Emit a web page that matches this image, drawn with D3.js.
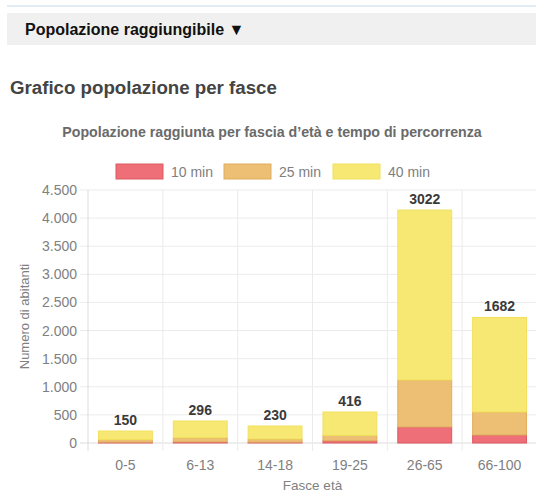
<!DOCTYPE html>
<html>
<head>
<meta charset="utf-8">
<script src="https://cdn.jsdelivr.net/npm/d3@7"></script>
<style>
  body { margin: 0; background: #fff; font-family: "Liberation Sans", Arial, Helvetica, sans-serif; }
  svg { display: block; }
</style>
</head>
<body>
<svg id="chart" width="536" height="493"></svg>
<script>
// age groups and population reached per travel time
const categories = ['0-5', '6-13', '14-18', '19-25', '26-65', '66-100'];
const min10 = [15, 20, 15, 40, 285, 142];
const min25 = [48, 75, 57, 95, 836, 409];
const min40 = [150, 296, 230, 416, 3022, 1682];
const yTicks = [0, 500, 1000, 1500, 2000, 2500, 3000, 3500, 4000, 4500];

const seriesNames = ['10 min', '25 min', '40 min'];
const fills = ['#ee6f77', '#ecbf74', '#f6e873'];
const strokes = ['#dc5a63', '#e0ad5c', '#f2e05c'];

const itLocale = d3.formatLocale({ decimal: ',', thousands: '.', grouping: [3], currency: ['€', ''] });
const fmt = itLocale.format(',d');

const svg = d3.select('#chart');

// page header
svg.append('line')
    .attr('x1', 7).attr('x2', 536).attr('y1', 6).attr('y2', 6)
    .style('stroke', '#e2ecf5').style('stroke-width', 2);
svg.append('rect')
    .attr('x', 7).attr('y', 13).attr('width', 529).attr('height', 32)
    .style('fill', '#f0f0f0');
svg.append('text')
    .attr('x', 25).attr('y', 35)
    .style('font-size', '16px').style('font-weight', 'bold').style('fill', '#111')
    .text('Popolazione raggiungibile ▼');
svg.append('text')
    .attr('x', 10).attr('y', 94)
    .style('font-size', '18.7px').style('font-weight', 'bold').style('fill', '#444')
    .text('Grafico popolazione per fasce');

// chart title
svg.append('text')
    .attr('x', 272).attr('y', 137)
    .attr('text-anchor', 'middle')
    .style('font-size', '14.2px').style('font-weight', 'bold').style('fill', '#6a6a6a')
    .text('Popolazione raggiunta per fascia d\u2019età e tempo di percorrenza');

// legend
const legendX = [116, 224, 333];
const legend = svg.append('g');
seriesNames.forEach((name, i) => {
  legend.append('rect')
      .attr('x', legendX[i]).attr('y', 164).attr('width', 47).attr('height', 15)
      .style('fill', fills[i]).style('stroke', strokes[i]).style('stroke-width', 1);
  legend.append('text')
      .attr('x', legendX[i] + 55).attr('y', 177)
      .style('font-size', '14px').style('fill', '#808080')
      .text(name);
});

// scales
const x = d3.scaleBand().domain(categories).range([88, 537]).paddingInner(0).paddingOuter(0);
const y = d3.scaleLinear().domain([0, 4500]).range([443, 190]);

// gridlines
const grid = svg.append('g');
for (let t of yTicks)
{
  grid.append('line')
      .attr('x1', 80).attr('x2', 537)
      .attr('y1', y(t)).attr('y2', y(t))
      .style('stroke', t === 0 ? '#dcdcdc' : '#ebebeb');
}
const bounds = categories.map(c => x(c)).concat([x.range()[1]]);
for (let b of bounds)
{
  grid.append('line')
      .attr('x1', b).attr('x2', b)
      .attr('y1', y(4500)).attr('y2', 451)
      .style('stroke', b === 88 ? '#dcdcdc' : '#ebebeb');
}

// y axis labels
svg.append('g').selectAll('text')
    .data(yTicks)
    .join('text')
    .attr('x', 77)
    .attr('y', d => y(d) + 5)
    .attr('text-anchor', 'end')
    .style('font-size', '14px').style('fill', '#808080')
    .text(d => fmt(d));

// x axis labels
svg.append('g').selectAll('text')
    .data(categories)
    .join('text')
    .attr('x', d => x(d) + x.bandwidth() / 2)
    .attr('y', 470)
    .attr('text-anchor', 'middle')
    .style('font-size', '14px').style('fill', '#808080')
    .text(d => d);

// axis titles
svg.append('text')
    .attr('transform', `translate(29, ${(y(0) + y(4500)) / 2}) rotate(-90)`)
    .attr('text-anchor', 'middle')
    .style('font-size', '13px').style('fill', '#808080')
    .text('Numero di abitanti');
svg.append('text')
    .attr('x', (x.range()[0] + x.range()[1]) / 2).attr('y', 490)
    .attr('text-anchor', 'middle')
    .style('font-size', '13.5px').style('fill', '#808080')
    .text('Fasce età');

// stacked bars
const rows = categories.map((c, i) => ({ cat: c, '10 min': min10[i], '25 min': min25[i], '40 min': min40[i] }));
const stacked = d3.stack().keys(seriesNames)(rows);
const barW = x.bandwidth() * 0.72;
const barOff = (x.bandwidth() - barW) / 2;

svg.append('g').selectAll('g')
    .data(stacked)
    .join('g')
    .style('fill', (d, i) => fills[i])
    .style('stroke', (d, i) => strokes[i])
    .style('stroke-width', 1)
    .selectAll('rect')
    .data(d => d)
    .join('rect')
    .attr('x', d => x(d.data.cat) + barOff)
    .attr('y', d => y(d[1]))
    .attr('width', barW)
    .attr('height', d => y(d[0]) - y(d[1]));

// value labels on top of each bar
const topLayer = stacked[stacked.length - 1];
svg.append('g').selectAll('text')
    .data(topLayer)
    .join('text')
    .attr('x', d => x(d.data.cat) + x.bandwidth() / 2)
    .attr('y', d => y(d[1]) - 6)
    .attr('text-anchor', 'middle')
    .style('font-size', '14px').style('font-weight', 'bold').style('fill', '#3a3a3a')
    .text(d => d.data['40 min']);
</script>
</body>
</html>
